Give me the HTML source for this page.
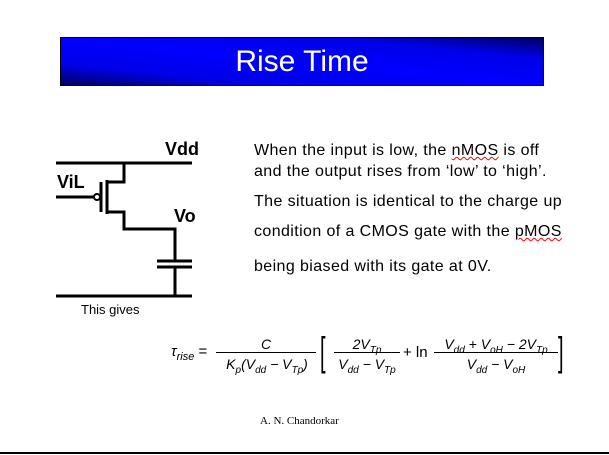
<!DOCTYPE html>
<html><head><style>
body{margin:0;width:609px;height:455px;background:#fff;position:relative;overflow:hidden;font-family:"Liberation Sans",Arial,sans-serif}
.t{position:absolute;white-space:nowrap}
#title{position:absolute;left:60px;top:37px;width:482px;height:47px;border:1px solid #000;background:linear-gradient(to bottom left,#000060 0%,#0000e8 22%,#0000ff 50%,#0000e8 78%,#000060 100%);color:#fff;font-size:30px;text-align:center;line-height:47px}
.p{font-size:16px;letter-spacing:0.4px;color:#000}
.w{text-decoration:underline wavy red;text-decoration-thickness:1px}
</style></head><body>
<div id="title">Rise Time</div>
<svg width="609" height="455" style="position:absolute;left:0;top:0">
<g stroke="#000" stroke-width="3" fill="none">
<line x1="56" y1="163" x2="192" y2="163"/>
<polyline points="124,163 124,182 107,182"/>
<line x1="107" y1="180" x2="107" y2="214"/>
<line x1="101" y1="182" x2="101" y2="212"/>
<line x1="56" y1="197" x2="94" y2="197"/>
<polyline points="107,212 124,212 124,229 175,229 175,261"/>
<line x1="157" y1="261" x2="192" y2="261"/>
<line x1="157" y1="267" x2="192" y2="267"/>
<line x1="175" y1="267" x2="175" y2="296"/>
<line x1="56" y1="296" x2="192" y2="296"/>
</g>
<circle cx="97" cy="197" r="3" stroke="#000" stroke-width="2" fill="#fff"/>
<line x1="0" y1="453" x2="609" y2="453" stroke="#000" stroke-width="2"/>
</svg>
<div class="t" style="left:165px;top:139px;font-size:18px;font-weight:bold">Vdd</div>
<div class="t" style="left:57px;top:172px;font-size:18px;font-weight:bold">ViL</div>
<div class="t" style="left:174px;top:206px;font-size:18px;font-weight:bold">Vo</div>
<div class="t" style="left:81px;top:302px;font-size:13px">This gives</div>
<div class="t p" style="left:254px;top:142px">When the input is low, the <span class="w">nMOS</span> is off</div>
<div class="t p" style="left:254px;top:163px">and the output rises from ‘low’ to ‘high’.</div>
<div class="t p" style="left:254px;top:193px">The situation is identical to the charge up</div>
<div class="t p" style="left:254px;top:223px">condition of a CMOS gate with the <span class="w">pMOS</span></div>
<div class="t p" style="left:254px;top:258px">being biased with its gate at 0V.</div>
<div class="t" style="left:171px;top:337px;font-size:15px;line-height:30px">
<span style="font-style:italic">τ<sub style="font-size:11px">rise</sub></span> =
</div>
<div class="t" style="left:216px;top:336px;width:100px;text-align:center;font-size:14px;font-style:italic">C</div>
<div class="t" style="left:216px;top:352px;width:100px;border-top:1px solid #000"></div>
<div class="t" style="left:216px;top:356px;width:102px;text-align:center;font-size:14px;font-style:italic">K<sub style="font-size:10px">p</sub>(V<sub style="font-size:10px">dd</sub> − V<sub style="font-size:10px">Tp</sub>)</div>
<div class="t" style="left:320px;top:330px;font-size:40px;font-weight:100;transform:scaleX(.5);transform-origin:left">[</div>
<div class="t" style="left:334px;top:336px;width:66px;text-align:center;font-size:14px;font-style:italic">2V<sub style="font-size:10px">Tp</sub></div>
<div class="t" style="left:334px;top:352px;width:66px;border-top:1px solid #000"></div>
<div class="t" style="left:334px;top:356px;width:66px;text-align:center;font-size:14px;font-style:italic">V<sub style="font-size:10px">dd</sub> − V<sub style="font-size:10px">Tp</sub></div>
<div class="t" style="left:403px;top:344px;font-size:15px">+ ln</div>
<div class="t" style="left:434px;top:336px;width:124px;text-align:center;font-size:14px;font-style:italic">V<sub style="font-size:10px">dd</sub> + V<sub style="font-size:10px">oH</sub> − 2V<sub style="font-size:10px">Tp</sub></div>
<div class="t" style="left:434px;top:352px;width:124px;border-top:1px solid #000"></div>
<div class="t" style="left:434px;top:356px;width:124px;text-align:center;font-size:14px;font-style:italic">V<sub style="font-size:10px">dd</sub> − V<sub style="font-size:10px">oH</sub></div>
<div class="t" style="left:558px;top:330px;font-size:40px;font-weight:100;transform:scaleX(.5);transform-origin:left">]</div>
<div class="t" style="left:260px;top:415px;font-size:11px;font-family:'Liberation Serif',serif">A. N. Chandorkar</div>
</body></html>
